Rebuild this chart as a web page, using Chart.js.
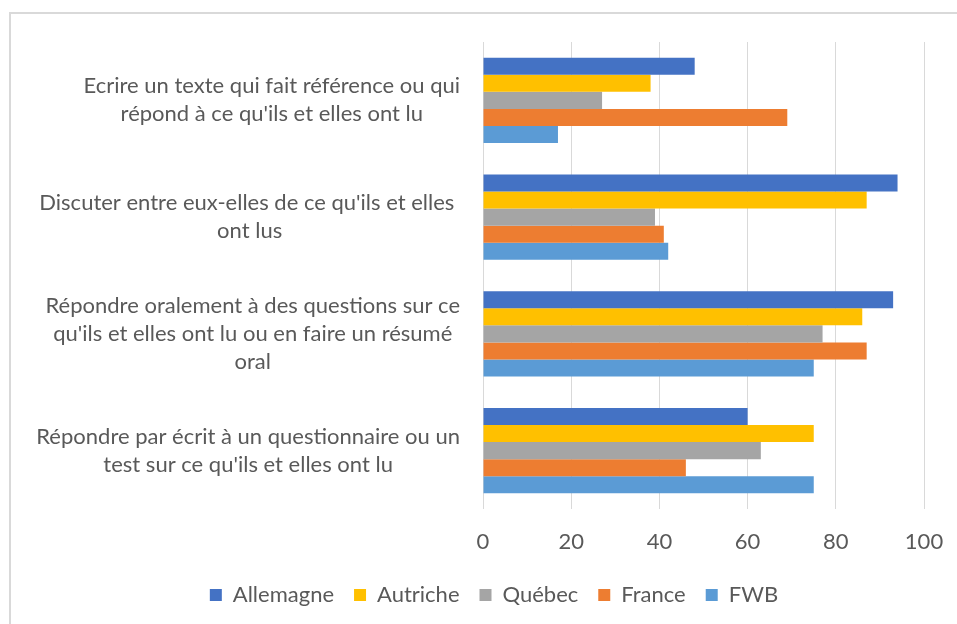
<!DOCTYPE html>
<html>
<head>
<meta charset="utf-8">
<script src="https://cdn.jsdelivr.net/npm/chart.js@4.4.0/dist/chart.umd.min.js"></script>
<style>
  html, body { margin: 0; padding: 0; background: #fff; overflow: hidden; }
  #frame { position: absolute; left: 9px; top: 12px; width: 1100px; height: 800px;
           border-top: 2px solid #D9D9D9; border-left: 2px solid #D9D9D9; }
  #wrap { position: absolute; left: 0; top: 0; width: 978px; height: 624px; }
</style>
</head>
<body>
<div id="frame"></div>
<div id="wrap"><canvas id="chart"></canvas></div>
<script>
const categories = [
    ["Ecrire un texte qui fait référence ou qui", "répond à ce qu'ils et elles ont lu"],
    ["Discuter entre eux-elles de ce qu'ils et elles ", "ont lus"],
    ["Répondre oralement à des questions sur ce", "qu'ils et elles ont lu ou en faire un résumé", "oral"],
    ["Répondre par écrit à un questionnaire ou un", "test sur ce qu'ils et elles ont lu"]
];
const seriesNames = ["Allemagne", "Autriche", "Québec", "France", "FWB"];
const allemagne = [48, 94, 93, 60];
const autriche = [38, 87, 86, 75];
const quebec = [27, 39, 77, 63];
const france = [69, 41, 87, 46];
const fwb = [17, 42, 75, 75];
const xTicks = [0, 20, 40, 60, 80, 100];

const seriesColors = ["#4472C4", "#FFC000", "#A5A5A5", "#ED7D31", "#5B9BD5"];
const textColor = "#595959";
const fontFamily = "Lato, 'Open Sans', sans-serif";
const fontSize = 22;
const lineHeight = 28;

// labels de catégories : chaque bloc centré sur lui-même, bloc collé à l'axe
const centeredLabels = {
    id: 'centeredLabels',
    afterLayout(chart) {
        // la légende est centrée sur tout le cadre (plus large que la vue)
        chart.legend.left += 32;
        chart.legend.right += 32;
    },
    afterDraw(chart) {
        const yScale = chart.scales.y;
        const ctx = chart.ctx;
        ctx.save();
        ctx.font = `${fontSize}px ${fontFamily}`;
        ctx.fillStyle = textColor;
        ctx.textAlign = 'center';
        ctx.textBaseline = 'middle';
        const right = chart.chartArea.left - 23;
        categories.forEach((lines, i) => {
            const w = Math.max(...lines.map(l => ctx.measureText(l).width));
            const cx = right - w / 2;
            const cy = yScale.getPixelForValue(i);
            lines.forEach((l, j) => {
                ctx.fillText(l, cx, cy + (j - (lines.length - 1) / 2) * lineHeight);
            });
        });
        ctx.restore();
    }
};

const values = [allemagne, autriche, quebec, france, fwb];

new Chart(document.getElementById('chart'), {
    type: 'bar',
    data: {
        labels: categories,
        datasets: seriesNames.map((name, i) => ({
            label: name,
            data: values[i],
            backgroundColor: seriesColors[i],
            barPercentage: 1,
            categoryPercentage: 0.73
        }))
    },
    options: {
        indexAxis: 'y',
        responsive: true,
        maintainAspectRatio: false,
        animation: false,
        layout: { padding: { top: 42, right: 54, left: 0, bottom: 8 } },
        plugins: {
            legend: {
                position: 'bottom',
                labels: {
                    boxWidth: 12,
                    boxHeight: 12,
                    padding: 20,
                    color: textColor,
                    font: { family: fontFamily, size: fontSize }
                }
            },
            tooltip: { enabled: false }
        },
        scales: {
            x: {
                min: 0,
                max: 100,
                afterBuildTicks: scale => { scale.ticks = xTicks.map(v => ({ value: v })); },
                afterFit: scale => { scale.height = 55; },
                grid: { color: '#D9D9D9', lineWidth: 1, drawTicks: false },
                border: { display: false },
                ticks: {
                    color: textColor,
                    padding: 20,
                    font: { family: fontFamily, size: fontSize }
                }
            },
            y: {
                afterFit: scale => { scale.width = 483; },
                grid: { display: false },
                border: { display: false },
                ticks: { display: false }
            }
        }
    },
    plugins: [centeredLabels]
});
</script>
</body>
</html>
